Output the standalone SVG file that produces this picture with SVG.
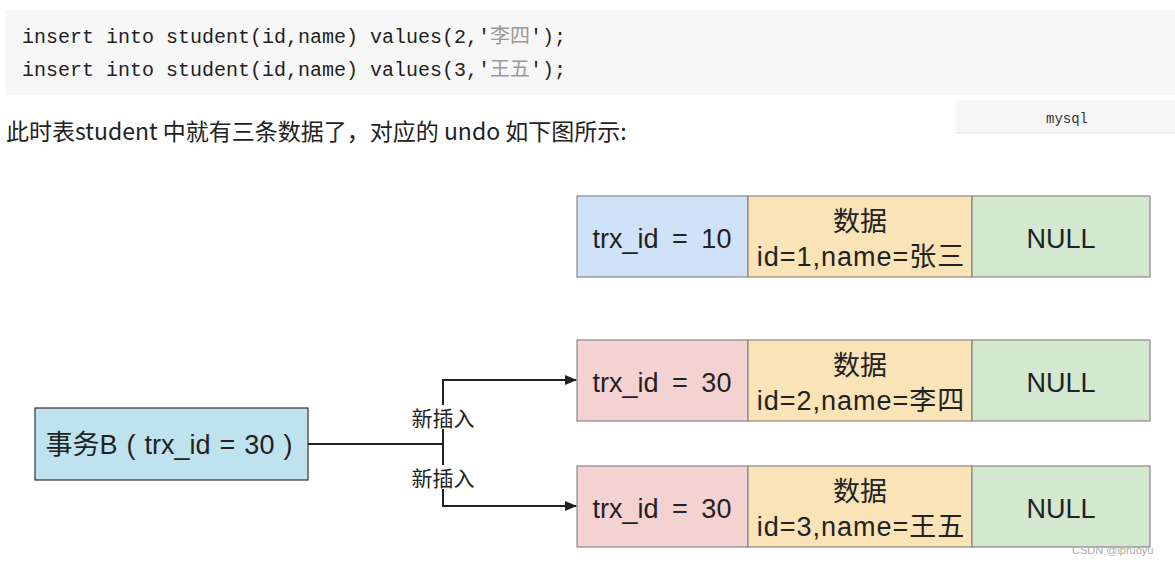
<svg xmlns="http://www.w3.org/2000/svg" width="1175" height="566" viewBox="0 0 1175 566">
<style>
.code{font-family:"Liberation Mono","DejaVu Sans Mono","Noto Sans CJK SC",monospace;font-size:20px;fill:#222}
.cjkq{fill:#9a9a9a;font-family:"Noto Sans CJK SC",sans-serif}
.para{font-family:"Noto Sans CJK SC","Noto Sans",sans-serif;font-size:23px;fill:#222}
.t{font-family:"Liberation Sans","Noto Sans CJK SC",sans-serif;font-size:27px;fill:#222;text-anchor:middle}
.w{word-spacing:6px}
.ls{letter-spacing:1px}
.cell{stroke:#888;stroke-width:1.2}
.lbl{font-family:"Noto Sans CJK SC",sans-serif;font-size:21px;fill:#222;text-anchor:middle}
.conn{stroke:#222;stroke-width:2;fill:none}
</style>
<defs>
<marker id="arr" markerWidth="12" markerHeight="10" refX="11" refY="5" orient="auto" markerUnits="userSpaceOnUse">
<path d="M0,0 L12,5 L0,10 Z" fill="#222"/>
</marker>
</defs>
<rect width="1175" height="566" fill="#fff"/>
<rect x="5" y="10" width="1170" height="85" fill="#f7f7f8"/>
<text class="code" x="22" y="43">insert into student(id,name) values(2,'<tspan class="cjkq">李四</tspan>');</text>
<text class="code" x="22" y="76">insert into student(id,name) values(3,'<tspan class="cjkq">王五</tspan>');</text>
<rect x="955" y="100" width="220" height="33" fill="#f7f7f8"/>
<line x1="955" y1="133" x2="1175" y2="133" stroke="#e6e6e6"/>
<text x="1067" y="123" font-family="Liberation Mono,monospace" font-size="14" fill="#333" text-anchor="middle">mysql</text>
<text class="para" x="6" y="140">此时表student 中就有三条数据了，对应的 undo 如下图所示:</text>

<g id="row1">
<rect class="cell" x="577" y="196" width="171" height="81" fill="#cfe2f8"/>
<rect class="cell" x="748" y="196" width="224" height="81" fill="#fae3b6"/>
<rect class="cell" x="972" y="196" width="178" height="81" fill="#d4e8d0"/>
<text class="t w" x="662" y="248">trx_id = 10</text>
<text class="t" x="860" y="231">数据</text>
<text class="t ls" x="861" y="266">id=1,name=张三</text>
<text class="t" x="1061" y="248">NULL</text>
</g>
<g id="row2">
<rect class="cell" x="577" y="340" width="171" height="81" fill="#f5d2d2"/>
<rect class="cell" x="748" y="340" width="224" height="81" fill="#fae3b6"/>
<rect class="cell" x="972" y="340" width="178" height="81" fill="#d4e8d0"/>
<text class="t w" x="662" y="392">trx_id = 30</text>
<text class="t" x="860" y="375">数据</text>
<text class="t ls" x="861" y="410">id=2,name=李四</text>
<text class="t" x="1061" y="392">NULL</text>
</g>
<g id="row3">
<rect class="cell" x="577" y="466" width="171" height="81" fill="#f5d2d2"/>
<rect class="cell" x="748" y="466" width="224" height="81" fill="#fae3b6"/>
<rect class="cell" x="972" y="466" width="178" height="81" fill="#d4e8d0"/>
<text class="t w" x="662" y="518">trx_id = 30</text>
<text class="t" x="860" y="501">数据</text>
<text class="t ls" x="861" y="536">id=3,name=王五</text>
<text class="t" x="1061" y="518">NULL</text>
</g>
<g id="trxB">
<rect x="35" y="408" width="273" height="72" fill="#bfe3ee" stroke="#333" stroke-width="1.2"/>
<text class="t" x="169" y="454" word-spacing="1.5">事务B ( trx_id = 30 )</text>
</g>
<g id="connectors">
<path class="conn" d="M308,444 H443"/>
<path class="conn" d="M443,444 V380 H576" marker-end="url(#arr)"/>
<path class="conn" d="M443,444 V506 H576" marker-end="url(#arr)"/>
<rect x="409" y="405" width="68" height="24" fill="#fff"/>
<text class="lbl" x="443" y="426">新插入</text>
<rect x="409" y="465" width="68" height="24" fill="#fff"/>
<text class="lbl" x="443" y="486">新插入</text>
</g>
<text x="1072" y="554" font-family="Liberation Sans,sans-serif" font-size="11" fill="#aaa">CSDN @lpruoyu</text>
</svg>
